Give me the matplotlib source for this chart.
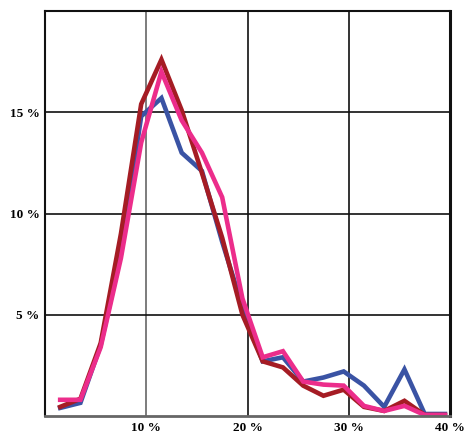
import numpy as np
import matplotlib
matplotlib.use('Agg')
import matplotlib.pyplot as plt

# share of values (x, %) and frequency (y, %)
x_vals = [1.5 + 2 * i for i in range(20)]
blue = [0.4, 0.65, 3.5, 8.0, 14.8, 15.7, 13.0, 12.1, 8.6, 5.4,
        2.7, 2.9, 1.7, 1.9, 2.2, 1.5, 0.45, 2.3, 0.1, 0.1]
red = [0.45, 0.85, 3.6, 9.0, 15.4, 17.6, 15.1, 12.0, 8.8, 5.0,
       2.7, 2.4, 1.5, 1.0, 1.3, 0.45, 0.25, 0.75, 0.05, 0.05]
pink = [0.8, 0.8, 3.4, 7.8, 13.5, 17.0, 14.6, 13.0, 10.8, 5.8,
        2.9, 3.2, 1.7, 1.55, 1.5, 0.5, 0.25, 0.5, 0.05, 0.05]

x_ticks = [10, 20, 30, 40]
x_labels = ['10 %', '20 %', '30 %', '40 %']
y_ticks = [5, 10, 15]
y_labels = ['5 %', '10 %', '15 %']

plt.rcParams['font.family'] = ['Liberation Serif', 'DejaVu Serif']

fig = plt.figure(figsize=(4.76, 4.34), dpi=100)
ax = fig.add_axes([45 / 476, 18 / 434, 405 / 476, 405 / 434])

ax.plot(x_vals, blue, color='#3a53a4', lw=3.3, solid_joinstyle='miter')
ax.plot(x_vals, red, color='#a51c24', lw=3.3, solid_joinstyle='miter')
ax.plot(x_vals, pink, color='#ec2d8b', lw=3.3, solid_joinstyle='miter')

ax.set_xlim(0, 40)
ax.set_ylim(0, 20)
ax.set_xticks(x_ticks)
ax.set_xticklabels(x_labels, fontweight='bold', fontsize=9.5)
ax.set_yticks(y_ticks)
ax.set_yticklabels(y_labels, fontweight='bold', fontsize=9.5)
ax.tick_params(length=0, pad=4)
ax.grid(True, color='#111111', lw=1.2)
ax.get_xgridlines()[0].set_color('#666666')
ax.set_axisbelow(True)
for s in ['left', 'top', 'right']:
    ax.spines[s].set_color('#111111')
    ax.spines[s].set_linewidth(1.5)
ax.spines['right'].set_linewidth(2.2)
ax.spines['bottom'].set_color('#666666')
ax.spines['bottom'].set_linewidth(2)

fig.savefig('out.png', dpi=100)
